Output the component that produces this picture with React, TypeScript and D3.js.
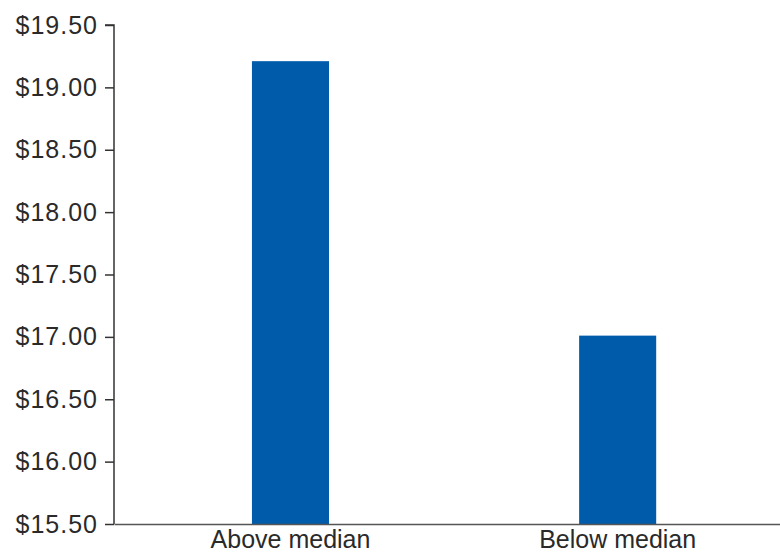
import { useEffect, useRef } from "react"
import * as d3 from "d3"

const categories = ["Above median", "Below median"]
const values = [19.21, 17.01]
const yTicks = [15.5, 16, 16.5, 17, 17.5, 18, 18.5, 19, 19.5]

const W = 780
const H = 553

export default function App() {
  const svgRef = useRef<SVGSVGElement>(null)

  useEffect(() => {
    const svgEl = svgRef.current
    if (!svgEl) return
    const svg = d3.select(svgEl)
    svg.selectAll("*").remove()

    const margin = { top: 25, right: 0, bottom: 29, left: 114 }
    const x = d3.scaleBand<string>()
      .domain(categories)
      .range([margin.left, W - margin.right])
      .paddingInner(0.7645)
      .paddingOuter(0.4)
      .align(0.527)
    const y = d3.scaleLinear()
      .domain([15.5, 19.5])
      .range([H - margin.bottom, margin.top])

    svg.append("g").selectAll("rect").data(values).join("rect")
      .attr("x", (_, i) => x(categories[i]) as number)
      .attr("y", d => y(d))
      .attr("width", x.bandwidth())
      .attr("height", d => y(15.5) - y(d))
      .attr("fill", "#005bab")

    const font = "'Liberation Sans', Arial, sans-serif"

    const yAxis = svg.append("g")
      .attr("transform", `translate(${margin.left},0)`)
      .call(d3.axisLeft(y).tickValues(yTicks).tickSize(9).tickPadding(7)
        .tickFormat(v => `$${(v as number).toFixed(2)}`))
    yAxis.select(".domain").attr("stroke", "#333").attr("stroke-width", 1.5)
      .attr("d", `M-9,${y(19.5)}H0V${y(15.5)}`)
    yAxis.selectAll(".tick line").attr("stroke", "#333").attr("stroke-width", 1.5)
    yAxis.selectAll(".tick text")
      .attr("fill", "#2a2a2a").attr("font-size", 25).attr("font-family", font)
      .attr("letter-spacing", 1)

    const xAxis = svg.append("g")
      .attr("transform", `translate(0,${H - margin.bottom})`)
      .call(d3.axisBottom(x).tickSize(0).tickPadding(6))
    xAxis.select(".domain").attr("stroke", "#555").attr("stroke-width", 1.5)
    xAxis.selectAll(".tick text")
      .attr("fill", "#2a2a2a").attr("font-size", 25).attr("font-family", font)
  }, [])

  return (
    <svg ref={svgRef} width={W} height={H}
      style={{ position: "absolute", left: 0, top: 0, background: "#fff" }} />
  )
}
